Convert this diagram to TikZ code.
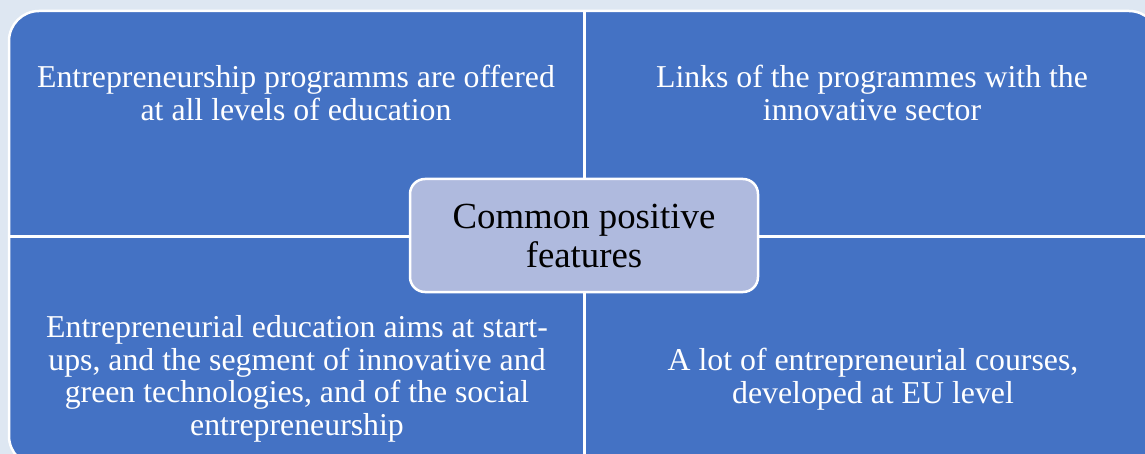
\documentclass[tikz,border=0pt]{standalone}
\usepackage{fontspec}
\setmainfont{Liberation Serif}
\definecolor{pagebg}{HTML}{DEE7F2}
\definecolor{quadblue}{HTML}{4472C4}
\definecolor{hubfill}{HTML}{AFBADE}
\tikzset{
  quadtext/.style={anchor=base, align=center, text=white, inner sep=0pt,
    font=\fontsize{31.8}{32.5}\selectfont},
  hubbox/.style={draw=white, line width=2.5pt, fill=hubfill, rounded corners=15pt,
    minimum width=348pt, minimum height=113pt, inner sep=0pt},
  hubtext/.style={anchor=base, align=center, text=black, inner sep=0pt,
    font=\fontsize{36.8}{38}\selectfont},
}
\begin{document}
\begin{tikzpicture}[x=1pt, y=-1pt]
  \useasboundingbox (0,0) rectangle (1145,454);
  \fill[pagebg] (0,0) rectangle (1145,454);
  \begin{scope}
    \clip (0,0) rectangle (1145,454);
    % outer frame holding the four quadrants
    \draw[fill=quadblue, draw=white, line width=2.5pt, rounded corners=30pt]
      (9,11) rectangle (1159,466);
    % white dividers between quadrants
    \draw[white, line width=3pt] (584.5,11) -- (584.5,466);
    \draw[white, line width=3pt] (9,237) -- (1159,237);
  \end{scope}
  % quadrant texts (anchored at the baseline of their last line)
  \node[quadtext] (tl) at (296,120.5)
    {Entrepreneurship programms are offered\\at all levels of education};
  \node[quadtext] (tr) at (872,120.5)
    {Links of the programmes with the\\innovative sector};
  \node[quadtext] (bl) at (297,435)
    {Entrepreneurial education aims at start-\\ups, and the segment of innovative and\\green technologies, and of the social\\entrepreneurship};
  \node[quadtext] (br) at (873,403)
    {A lot of entrepreneurial courses,\\developed at EU level};
  % central box
  \node[hubbox] (hub) at (584,235.5) {};
  \node[hubtext] (hubt) at (584,267) {Common positive\\features};
\end{tikzpicture}
\end{document}
